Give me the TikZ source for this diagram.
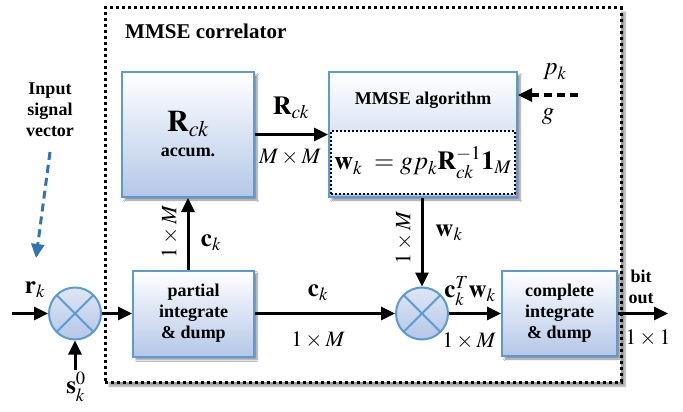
\documentclass[tikz,border=0pt]{standalone}
\usepackage{mathptmx}
\usepackage[no-math]{fontspec}
\setmainfont{Liberation Serif}
\usetikzlibrary{arrows.meta,shadows.blur,calc}
\definecolor{bblue}{RGB}{91,155,213}
\definecolor{lblue}{RGB}{180,199,231}
\definecolor{dblue}{RGB}{46,117,182}
\tikzset{
 blk/.style={draw=bblue, line width=2pt, top color=white, bottom color=lblue,
   blur shadow={shadow xshift=3pt, shadow yshift=-3pt, shadow opacity=45, shadow blur steps=6},
   align=center, font=\fontsize{18}{21}\selectfont\bfseries, inner sep=0pt},
 mult/.style={circle, draw=bblue, line width=2pt, top color=lblue!45, bottom color=lblue,
   minimum size=52pt, inner sep=0pt,
   path picture={\draw[bblue, line width=2pt] (path picture bounding box.north east)--(path picture bounding box.south west) (path picture bounding box.north west)--(path picture bounding box.south east);}},
 conn/.style={line width=3pt, -{Triangle[length=14pt,width=13pt]}},
 lbl/.style={font=\fontsize{22}{26}\selectfont, inner sep=0pt},
 blbl/.style={font=\fontsize{25}{29}\selectfont, inner sep=0pt},
 txt/.style={font=\fontsize{18}{21}\selectfont\bfseries, inner sep=0pt, align=center},
 corrbox/.style={draw=black, line width=3pt, dash pattern=on 3pt off 3pt, fill=white,
   blur shadow={shadow xshift=4pt, shadow yshift=-4pt, shadow opacity=40, shadow blur steps=6},
   minimum width=516pt, minimum height=374pt, inner sep=0pt},
}
\begin{document}
\begin{tikzpicture}[x=1pt,y=-1pt]
\useasboundingbox (0,0) rectangle (683,412);
% outer correlator box
\node[corrbox] (corr) at (363,195) {};
\node[txt, font=\fontsize{21}{25}\selectfont\bfseries, anchor=west] (title) at (125,31) {MMSE correlator};
% blocks
\node[blk, minimum width=132pt, minimum height=125pt] (acc) at (188,134.5)
  {{\fontsize{30}{34}\selectfont$\mathbf{R}_{ck}$}\\[4pt]accum.};
\node[blk, minimum width=188pt, minimum height=125pt] (mmse) at (423,134.5) {};
\node[txt] (mmsetxt) at (423,100) {MMSE algorithm};
\node[draw=black, line width=2pt, dash pattern=on 2pt off 2pt, fill=white,
  minimum width=184pt, minimum height=63pt, inner sep=0pt,
  font=\fontsize{26}{30}\selectfont] (wbox) at (423,162.5)
  {$\mathbf{w}_k\;= g p_k \mathbf{R}_{ck}^{-1}\mathbf{1}_M$};
\node[blk, minimum width=121pt, minimum height=86pt] (part) at (193.5,313.5) {partial\\integrate\\\& dump};
\node[blk, minimum width=115pt, minimum height=85pt] (comp) at (559.5,313.5) {complete\\integrate\\\& dump};
\node[mult] (m1) at (75,313.5) {};
\node[mult] (m2) at (422,313.5) {};
% free ends
\coordinate (rin) at (12,313.5);
\coordinate (sin) at (75,370);
\coordinate (out) at (668,313.5);
\coordinate (pin) at (578,95);
\coordinate (ia) at (50,152);
\coordinate (ib) at (36,258);
% connectors
\draw[conn] (rin) -- (m1);
\draw[conn] (sin) -- (m1);
\draw[conn] (m1) -- (part);
\draw[conn] (part) -- (m2);
\draw[conn] (m2) -- (comp);
\draw[conn] (comp) -- (out);
\draw[conn] (acc.south |- part.north) -- (acc.south);
\draw[conn] (acc.east) -- (acc.east -| mmse.west);
\draw[conn] (m2 |- mmse.south) -- (m2);
\draw[conn, dash pattern=on 8pt off 5pt] (pin) -- (pin -| mmse.east);
\draw[dblue, line width=3pt, dash pattern=on 8pt off 5pt, -{Triangle[length=14pt,width=13pt]}] (ia) -- (ib);
% labels
\node[txt] (inp) at (50,110) {Input\\signal\\vector};
\node[blbl] (lr) at (35,290) {$\mathbf{r}_k$};
\node[blbl] (ls) at (76,387) {$\mathbf{s}_k^0$};
\node[lbl, font=\fontsize{26}{30}\selectfont] (lR) at (291,108) {$\mathbf{R}_{ck}$};
\node[lbl] (lMM) at (290,157) {$M\times M$};
\node[blbl] (lp) at (555,72) {$p_k$};
\node[blbl] (lg) at (548,117) {$g$};
\node[blbl] (lc1) at (211,243) {$\mathbf{c}_k$};
\node[lbl, rotate=90] (l1M1) at (170,232) {$1\times M$};
\node[blbl] (lc2) at (318,293) {$\mathbf{c}_k$};
\node[lbl] (l1M2) at (318,340) {$1\times M$};
\node[blbl] (lw) at (449,233) {$\mathbf{w}_k$};
\node[lbl, rotate=90] (l1M3) at (404,238) {$1\times M$};
\node[blbl] (lcw) at (470,291) {$\mathbf{c}_k^T\mathbf{w}_k$};
\node[lbl] (l1M4) at (469,341) {$1\times M$};
\node[txt] (bit) at (641,287) {bit\\out};
\node[lbl] (l11) at (648,338) {$1\times 1$};
\end{tikzpicture}
\end{document}
